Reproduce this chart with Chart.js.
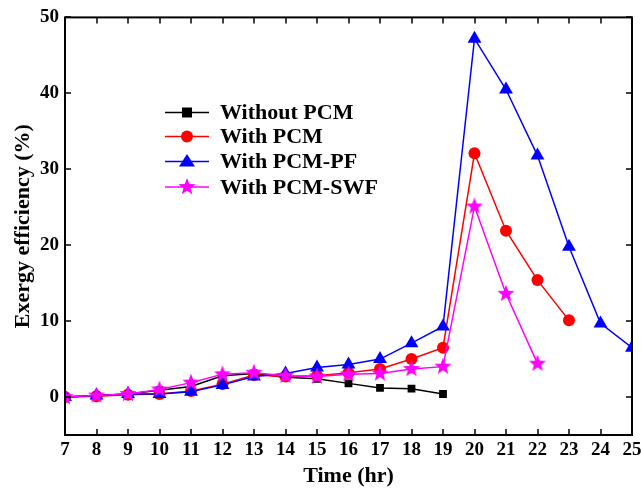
<!DOCTYPE html>
<html>
<head>
<meta charset="utf-8">
<script src="https://cdn.jsdelivr.net/npm/chart.js@4/dist/chart.umd.min.js"></script>
<style>
html,body{margin:0;padding:0;background:#fff;}
#c{display:block;}
</style>
</head>
<body>
<canvas id="c" width="641" height="490"></canvas>
<script>
const hours = [7,8,9,10,11,12,13,14,15,16,17,18,19,20,21,22,23,24,25];
const withoutPCM = [0,0.2,0.4,0.9,1.4,2.8,3.1,2.6,2.4,1.8,1.2,1.1,0.4];
const withPCM = [0,0.1,0.3,0.4,0.8,1.7,2.9,2.7,2.8,3.2,3.7,5.0,6.5,32.1,21.9,15.4,10.1];
const withPCMPF = [0,0.2,0.4,0.4,0.7,1.6,2.7,3.1,3.9,4.3,5.0,7.1,9.3,47.2,40.5,31.8,19.8,9.7,6.5];
const withPCMSWF = [0,0.2,0.4,1.0,1.9,3.0,3.2,2.8,2.7,3.0,3.1,3.7,4.0,25.1,13.6,4.4];
const seriesNames = ['Without PCM','With PCM','With PCM-PF','With PCM-SWF'];
const yTickValues = [0,10,20,30,40,50];
const xTickValues = hours;

function pts(arr){ return arr.map((v,i)=>({x:hours[i], y:v})); }

function makeStar(color, r){
  const c = document.createElement('canvas');
  const s = Math.ceil(r*2+2);
  c.width = s; c.height = s;
  const g = c.getContext('2d');
  const cx = s/2, cy = s/2, ri = r*0.42;
  g.beginPath();
  for(let i=0;i<10;i++){
    const a = -Math.PI/2 + i*Math.PI/5;
    const rr = (i%2===0)? r: ri;
    const px = cx + rr*Math.cos(a), py = cy + rr*Math.sin(a);
    if(i===0) g.moveTo(px,py); else g.lineTo(px,py);
  }
  g.closePath();
  g.fillStyle = color; g.fill();
  return c;
}
const starImg = makeStar('#ff00ff', 9);

const FONT = "'Liberation Serif', 'Times New Roman', serif";

const frameTicks = {
  id:'frameTicks',
  afterDatasetsDraw(chart){
    const {ctx, chartArea:a, scales:{x,y}} = chart;
    ctx.save();
    ctx.strokeStyle='#000';
    ctx.lineWidth=2;
    ctx.strokeRect(a.left, a.top, a.right-a.left, a.bottom-a.top);
    ctx.lineWidth=1.5;
    const L=6;
    ctx.beginPath();
    xTickValues.forEach(v=>{
      const px = Math.round(x.getPixelForValue(v));
      ctx.moveTo(px, a.bottom); ctx.lineTo(px, a.bottom-L);
      ctx.moveTo(px, a.top); ctx.lineTo(px, a.top+L);
    });
    yTickValues.forEach(v=>{
      const py = Math.round(y.getPixelForValue(v));
      ctx.moveTo(a.left, py); ctx.lineTo(a.left+L, py);
      ctx.moveTo(a.right, py); ctx.lineTo(a.right-L, py);
    });
    ctx.stroke();
    ctx.restore();
  },
  afterDraw(chart){
    const ctx = chart.ctx;
    ctx.save();
    const x0 = 165, x1 = 209, tx = 220;
    const ys = [112.5, 136.5, 161.5, 187];
    chart.data.datasets.forEach((ds,i)=>{
      const yy = ys[i];
      ctx.strokeStyle = ds.borderColor; ctx.lineWidth = 1.5;
      ctx.beginPath(); ctx.moveTo(x0,yy); ctx.lineTo(x1,yy); ctx.stroke();
      const cx = (x0+x1)/2;
      ctx.fillStyle = ds.borderColor;
      if(i===0){ ctx.fillRect(cx-5, yy-5, 10, 10); }
      else if(i===1){ ctx.beginPath(); ctx.arc(cx,yy,6,0,Math.PI*2); ctx.fill(); }
      else if(i===2){ ctx.beginPath(); ctx.moveTo(cx,yy-7.5); ctx.lineTo(cx+8,yy+5); ctx.lineTo(cx-8,yy+5); ctx.closePath(); ctx.fill(); }
      else { ctx.drawImage(starImg, cx-starImg.width/2, yy-starImg.height/2); }
      ctx.fillStyle='#000';
      ctx.font = "bold 22px " + FONT;
      ctx.textBaseline='middle'; ctx.textAlign='left';
      ctx.fillText(seriesNames[i], tx, yy+1);
    });
    ctx.restore();
  }
};

const common = {fill:false, borderWidth:1.5, tension:0, clip:0, pointBorderWidth:0};

new Chart(document.getElementById('c'), {
  type:'line',
  data:{
    datasets:[
      Object.assign({label:seriesNames[0], data:pts(withoutPCM), borderColor:'#000000', backgroundColor:'#000000', pointStyle:'rect', pointRadius:5.5, order:3}, common),
      Object.assign({label:seriesNames[1], data:pts(withPCM), borderColor:'#ff0000', backgroundColor:'#ff0000', pointStyle:'circle', pointRadius:6, order:2}, common),
      Object.assign({label:seriesNames[2], data:pts(withPCMPF), borderColor:'#0000ff', backgroundColor:'#0000ff', pointStyle:'triangle', pointRadius:8, order:1}, common),
      Object.assign({label:seriesNames[3], data:pts(withPCMSWF), borderColor:'#ff00ff', backgroundColor:'#ff00ff', pointStyle:starImg, pointRadius:9, order:0}, common)
    ]
  },
  options:{
    responsive:false, animation:false, devicePixelRatio:1,
    layout:{padding:{left:0, right:0, top:17, bottom:0}},
    plugins:{legend:{display:false}, tooltip:{enabled:false}},
    scales:{
      x:{type:'linear', min:7, max:25,
        afterBuildTicks(s){ s.ticks = xTickValues.map(v=>({value:v})); },
        afterFit(s){ s.height = 55; s.paddingRight = 9; s.paddingLeft = 0; },
        grid:{display:false, drawTicks:false}, border:{display:false},
        ticks:{color:'#000', font:{family:FONT, size:19, weight:'bold'}, padding:4, maxRotation:0, autoSkip:false},
        title:{display:true, text:'Time (hr)', color:'#000', font:{family:FONT, size:22, weight:'bold'}, padding:{top:2,bottom:0}}
      },
      y:{type:'linear', min:-5, max:50,
        afterBuildTicks(s){ s.ticks = yTickValues.map(v=>({value:v})); },
        afterFit(s){ s.width = 65; },
        grid:{display:false, drawTicks:false}, border:{display:false},
        ticks:{color:'#000', font:{family:FONT, size:19, weight:'bold'}, padding:6},
        title:{display:true, text:'Exergy efficiency (%)', color:'#000', font:{family:FONT, size:22, weight:'bold'}, padding:{top:10,bottom:0}}
      }
    }
  },
  plugins:[frameTicks]
});
</script>
</body>
</html>
